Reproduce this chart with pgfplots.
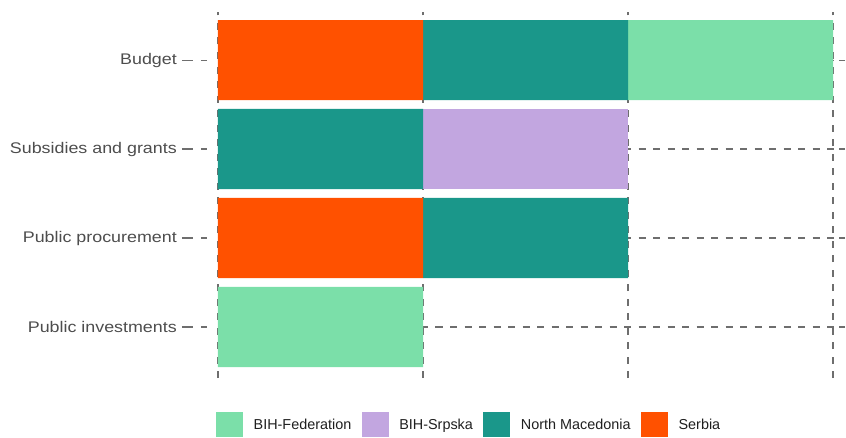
\documentclass[border=0pt]{standalone}
\usepackage{fontspec}
\setmainfont{Liberation Sans}
\newfontfamily\ticksfont[FakeStretch=1.16]{Liberation Sans}
\usepackage{pgfplots}
\pgfplotsset{compat=1.18}
\definecolor{cFed}{HTML}{7BDFA9}
\definecolor{cSrp}{HTML}{C2A6E0}
\definecolor{cNM}{HTML}{1A978A}
\definecolor{cSer}{HTML}{FF5100}
\definecolor{gridc}{HTML}{6E6E6E}
\definecolor{labc}{HTML}{4D4D4D}
\begin{document}
\begin{tikzpicture}
\useasboundingbox (-218pt,-59pt) rectangle (628pt,378pt);
\begin{axis}[
  at={(0pt,0pt)}, anchor=south west,
  scale only axis, width=622pt, height=366pt,
  xmin=0, xmax=3.034, ymin=-0.573, ymax=3.54,
  xbar stacked, bar width=0.9,
  axis line style={draw=none},
  xtick={0,1,2,3}, xticklabels={}, x tick style={draw=none},
  ytick={0,1,2,3},
  yticklabels={Public investments, Public procurement, Subsidies and grants, Budget},
  tick align=outside,
  y tick style={draw=gridc, line width=1.1pt, dash pattern=on 11pt off 8pt on 6pt off 20pt, xshift=-6pt},
  major tick length=30pt,
  yticklabel style={font=\ticksfont\fontsize{15.4}{18}\selectfont, text=labc, inner sep=0pt, xshift=-11pt},
  xmajorgrids, ymajorgrids,
  grid style={draw=gridc, line width=1.1pt, dash pattern=on 7pt off 7.5pt},
  legend columns=4, reverse legend,
  legend image code/.code={\fill[#1] (0pt,-12.5pt) rectangle (27pt,12.5pt);},
  legend style={draw=none, fill=none, inner sep=0pt, at={(axis description cs:0,0)}, anchor=north west,
    xshift=-2pt, yshift=-34pt, font=\fontsize{14.4}{17}\selectfont, text=black!88,
    nodes={inner sep=0pt, anchor=west},
    /tikz/every odd column/.append style={column sep=10.5pt},
    /tikz/every even column/.append style={column sep=10.5pt}},
]
\addplot[fill=cSer, draw=none] coordinates {(0,0) (1,1) (0,2) (1,3)};
\addlegendentry{Serbia}
\addplot[fill=cNM, draw=none] coordinates {(0,0) (1,1) (1,2) (1,3)};
\addlegendentry{North Macedonia}
\addplot[fill=cSrp, draw=none] coordinates {(0,0) (0,1) (1,2) (0,3)};
\addlegendentry{BIH-Srpska}
\addplot[fill=cFed, draw=none] coordinates {(1,0) (0,1) (0,2) (1,3)};
\addlegendentry{BIH-Federation}
\end{axis}
\end{tikzpicture}
\end{document}
